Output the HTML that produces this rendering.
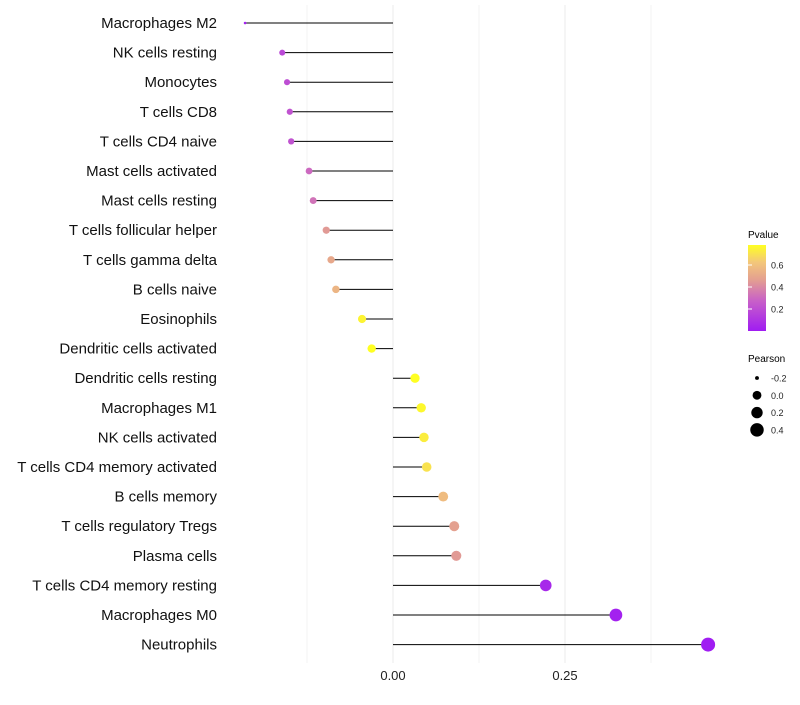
<!DOCTYPE html>
<html><head><meta charset="utf-8"><style>
body{margin:0;background:#fff;font-family:"Liberation Sans",sans-serif;}
</style></head><body>
<svg id="chart" width="800" height="700" xmlns="http://www.w3.org/2000/svg" font-family="Liberation Sans, sans-serif">
<defs><linearGradient id="pg" x1="0" y1="1" x2="0" y2="0">
<stop offset="0" stop-color="#a01cf2"/><stop offset="0.35" stop-color="#c860c8"/><stop offset="0.6" stop-color="#e4a090"/><stop offset="0.8" stop-color="#f3c77a"/><stop offset="1" stop-color="#ffff22"/></linearGradient></defs>
<g id="grid"></g><g id="marks"></g><g id="labels"></g>
<g>
<text x="748" y="238" font-size="10">Pvalue</text>
<rect x="748" y="245" width="18" height="86" fill="url(#pg)"/>
<g id="cbticks"></g>
</g>
<g id="sizeleg">
<text x="748" y="362" font-size="10">Pearson</text>
</g>
</svg>
<script>
const categories=["Macrophages M2","NK cells resting","Monocytes","T cells CD8","T cells CD4 naive","Mast cells activated","Mast cells resting","T cells follicular helper","T cells gamma delta","B cells naive","Eosinophils","Dendritic cells activated","Dendritic cells resting","Macrophages M1","NK cells activated","T cells CD4 memory activated","B cells memory","T cells regulatory  Tregs ","Plasma cells","T cells CD4 memory resting","Macrophages M0","Neutrophils"];
const pearson=[-0.215,-0.161,-0.154,-0.150,-0.148,-0.122,-0.116,-0.097,-0.090,-0.083,-0.045,-0.031,0.032,0.041,0.045,0.049,0.073,0.089,0.092,0.222,0.324,0.458];
const pvalues=[0.02,0.18,0.2,0.22,0.22,0.3,0.33,0.45,0.5,0.55,0.75,0.78,0.78,0.76,0.73,0.7,0.58,0.47,0.45,0.05,0.02,0.003];
const xTicks=[0,0.25];
const xTickLabels=["0.00","0.25"];
const cbTicks=[0.2,0.4,0.6];
const sizeTicks=[-0.2,0,0.2,0.4];
const NS="http://www.w3.org/2000/svg";
const x=v=>393+v*688;
const y=i=>23+i*29.6;
const r=v=>{let a=v>=-0.161?9+65*(v+0.161):1.7+(9-1.7)*(v+0.215)/0.054;return Math.sqrt(Math.max(1.5,a));};
const cy=p=>331-p*110;
function col(p){const t=Math.min(1,p/0.78);
 const st=[[0,[160,28,242]],[0.35,[200,96,200]],[0.6,[228,160,144]],[0.8,[243,199,122]],[1,[255,255,34]]];
 for(let k=1;k<st.length;k++){if(t<=st[k][0]){const a=st[k-1],b=st[k],f=(t-a[0])/(b[0]-a[0]);
 return "rgb("+a[1].map((c,j)=>Math.round(c+(b[1][j]-c)*f)).join(",")+")";}}return "rgb(255,255,34)";}
function mk(tag,at,parent){const e=document.createElementNS(NS,tag);for(const k in at)e.setAttribute(k,at[k]);document.getElementById(parent).appendChild(e);return e;}
[-0.125,0,0.125,0.25,0.375].forEach(v=>{const g=mk("line",{x1:x(v),x2:x(v),y1:5,y2:663,stroke:"#ebebeb","stroke-width":v===0||v===0.25?1:0.6},"grid");

});
xTicks.forEach((v,i)=>{const t=mk("text",{x:x(v),y:680,"font-size":13,"text-anchor":"middle",fill:"#222"},"labels");t.textContent=xTickLabels[i];

});
categories.forEach((c,i)=>{
 const t=mk("text",{x:217,y:y(i)+5,"font-size":15,"text-anchor":"end",fill:"#111"},"labels");t.textContent=c;
 
 
 const l=mk("line",{x1:x(0),x2:x(pearson[i]),y1:y(i),y2:y(i),stroke:"#000","stroke-width":1},"marks");
 
 
 const d=mk("circle",{cx:x(pearson[i]),cy:y(i),r:r(pearson[i]),fill:col(pvalues[i])},"marks");
 
 
});
cbTicks.forEach(p=>{const ln=mk("line",{x1:748,x2:752,y1:cy(p),y2:cy(p),stroke:"#fff"},"cbticks");


const t=mk("text",{x:771,y:cy(p)+3.5,"font-size":9,fill:"#222"},"cbticks");t.textContent=p.toFixed(1);

});
sizeTicks.forEach((v,i)=>{const yy=378+i*17.3;
const c=mk("circle",{cx:757,cy:yy,r:r(v),fill:"#000"},"sizeleg");


const t=mk("text",{x:771,y:yy+3.5,"font-size":9,fill:"#222"},"sizeleg");t.textContent=v.toFixed(1);

});
</script>
</body></html>
